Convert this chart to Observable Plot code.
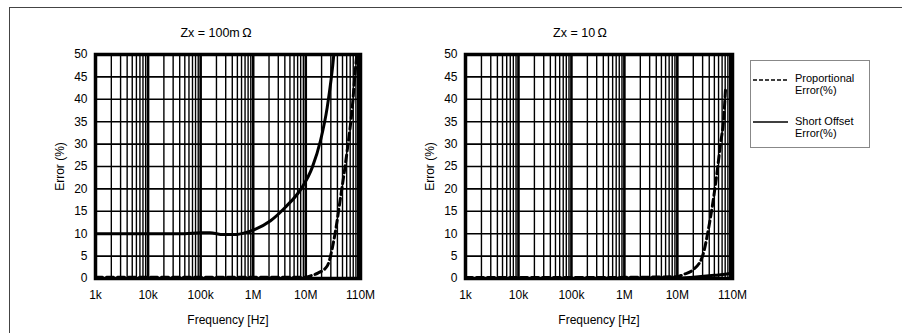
<!DOCTYPE html>
<html><head><meta charset="utf-8">
<script src="https://cdn.jsdelivr.net/npm/d3@7"></script>
<script src="https://cdn.jsdelivr.net/npm/@observablehq/plot@0.6"></script>
<style>
body{margin:0;background:#fff;font-family:"Liberation Sans",Arial,sans-serif;}
#wrap{position:relative;width:902px;height:333px;overflow:hidden;background:#fff;}
#frame{position:absolute;left:9px;top:7px;width:910px;height:360px;border:1.5px solid #444;box-sizing:border-box;}
.panel{position:absolute;top:0;}
.title{position:absolute;top:26px;width:200px;text-align:center;font-size:12.5px;color:#000;}
#legend{position:absolute;left:750px;top:60px;width:120px;height:88px;border:1px solid #888;box-sizing:border-box;font-size:11px;}
#legend .txt{position:absolute;left:44px;line-height:12px;}
#legend svg{position:absolute;left:0;}
</style></head><body>
<div id="wrap"><div id="frame"></div></div>
<script>
// axis ticks
const xTicks = [1e3, 1e4, 1e5, 1e6, 1e7, 1.1e8];
const xTickLabels = ["1k", "10k", "100k", "1M", "10M", "110M"];
const yTicks = [0, 5, 10, 15, 20, 25, 30, 35, 40, 45, 50];
const panelTitles = ["Zx = 100m\u2009Ω", "Zx = 10\u2009Ω"];
const seriesNames = ["Proportional Error(%)", "Short Offset Error(%)"];

// Zx = 100mΩ
const leftPropFreq = [1e3, 3e3, 1e4, 3e4, 1e5, 3e5, 1e6, 3e6, 1e7, 1.23e7, 1.7e7, 2.56e7, 3.42e7, 4.58e7, 6.15e7, 7.65e7, 8.85e7, 9.7e7];
const leftPropErr  = [0.3, 0.3, 0.3, 0.3, 0.3, 0.3, 0.3, 0.3, 0.3, 0.6, 1.2, 2.8, 8.5, 18, 28.6, 38, 47, 52];
const leftShortFreq = [1e3, 1e4, 5e4, 1e5, 1.5e5, 2.7e5, 4.5e5, 7e5, 1e6, 2.14e6, 4e6, 8.57e6, 1.33e7, 1.91e7, 2.56e7, 3.42e7, 3.6e7];
const leftShortErr  = [10, 10, 10, 10.2, 10.2, 9.8, 9.8, 10.2, 10.8, 12.9, 15.8, 20.4, 24.8, 30.8, 38.2, 50, 53];

// Zx = 10Ω
const rightPropFreq = [1e3, 1e5, 1e7, 1.3e7, 1.91e7, 2.95e7, 3.93e7, 5.25e7, 6.53e7, 7.54e7, 8.1e7];
const rightPropErr  = [0.2, 0.2, 0.4, 0.9, 1.8, 4.8, 11.5, 21, 30, 36, 42];
const rightShortFreq = [1e3, 1e5, 1e7, 2e7, 5e7, 1e8, 1.1e8];
const rightShortErr  = [0, 0, 0.1, 0.3, 0.7, 1.1, 1.2];

// grid (1..9 per decade)
const gridMinor = [];
const gridMajor = [];
for (let d = 1e3; d <= 1e8; d *= 10) {
  for (let m = 1; m <= 9; m++) {
    const v = d * m;
    if (v > 1.1e8) break;
    (m === 1 ? gridMajor : gridMinor).push(v);
  }
}

function panel(propF, propE, shortF, shortE, width, marginRight) {
  const prop = propF.map((f, i) => ({f, e: propE[i]}));
  const short = shortF.map((f, i) => ({f, e: shortE[i]}));
  return Plot.plot({
    width, height: 333,
    marginLeft: 95, marginRight, marginTop: 54, marginBottom: 55,
    style: {fontFamily: "'Liberation Sans', Arial, sans-serif", fontSize: "12px", color: "#000", background: "transparent"},
    x: {type: "log", domain: [1e3, 1.1e8], ticks: xTicks, tickFormat: d => xTickLabels[xTicks.indexOf(d)],
        tickSize: 0, tickPadding: 12, label: "Frequency [Hz]", labelAnchor: "center", labelOffset: 45, labelArrow: "none"},
    y: {domain: [0, 50], ticks: yTicks, tickSize: 0, tickPadding: 8,
        label: "Error (%)", labelAnchor: "center", labelOffset: 40, labelArrow: "none"},
    marks: [
      Plot.ruleX(gridMinor, {stroke: "#000", strokeWidth: 1.4}),
      Plot.ruleX(gridMajor, {stroke: "#000", strokeWidth: 2.6}),
      Plot.ruleY(yTicks, {stroke: "#000", strokeWidth: 1.6}),
      Plot.line(short, {x: "f", y: "e", stroke: "#000", strokeWidth: 3, curve: "monotone-x", clip: true}),
      Plot.line(prop, {x: "f", y: "e", stroke: "#000", strokeWidth: 3, strokeDasharray: "7,4", curve: "monotone-x", clip: true}),
      Plot.frame({stroke: "#000", strokeWidth: 3.5})
    ]
  });
}

const wrap = document.getElementById("wrap");
const p1 = panel(leftPropFreq, leftPropErr, leftShortFreq, leftShortErr, 390, 30);
p1.classList.add("panel"); p1.style.left = "0px";
wrap.appendChild(p1);
const p2 = panel(rightPropFreq, rightPropErr, rightShortFreq, rightShortErr, 390, 28);
p2.classList.add("panel"); p2.style.left = "370px";
wrap.appendChild(p2);

const t1 = document.createElement("div"); t1.className = "title"; t1.style.left = (216 - 100) + "px"; t1.textContent = panelTitles[0]; wrap.appendChild(t1);
const t2 = document.createElement("div"); t2.className = "title"; t2.style.left = (580 - 100) + "px"; t2.textContent = panelTitles[1]; wrap.appendChild(t2);

// legend
const lg = document.createElement("div"); lg.id = "legend";
const names = seriesNames.map(s => { const k = s.lastIndexOf(" "); return [s.slice(0, k), s.slice(k + 1)]; });
lg.innerHTML = `
<svg width="44" height="88" style="top:0">
  <line x1="2" x2="37" y1="19" y2="19" stroke="#000" stroke-width="1.6" stroke-dasharray="4,2"/>
  <line x1="2" x2="37" y1="61" y2="61" stroke="#000" stroke-width="1.6"/>
</svg>
<div class="txt" style="top:11px">${names[0][0]}<br>${names[0][1]}</div>
<div class="txt" style="top:54px">${names[1][0]}<br>${names[1][1]}</div>`;
wrap.appendChild(lg);
</script>
</body></html>
